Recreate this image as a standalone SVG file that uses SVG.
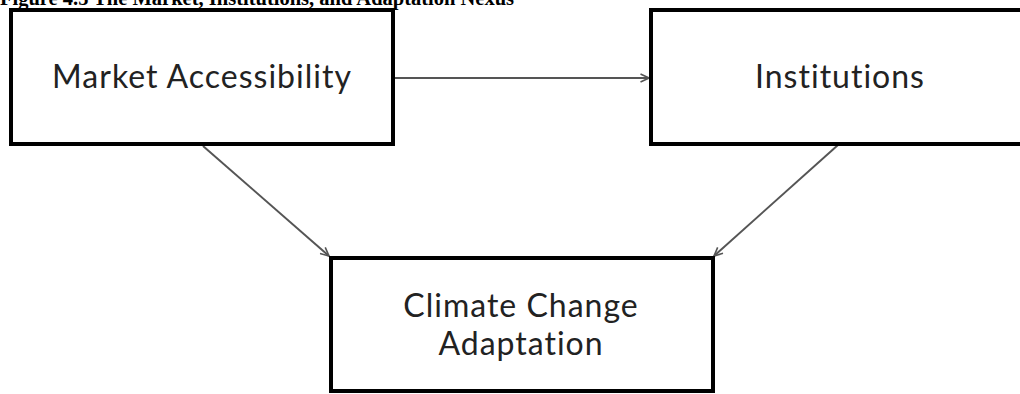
<svg xmlns="http://www.w3.org/2000/svg" width="1020" height="394" viewBox="0 0 1020 394">
<defs>
<style>
.box{fill:#fff;stroke:#000;stroke-width:4}
.lbl{font-family:Lato,"Liberation Sans",sans-serif;font-size:32px;letter-spacing:1px;fill:#222;text-anchor:middle;font-variant-ligatures:none}
.con{stroke:#555;stroke-width:2;fill:none;marker-end:url(#ah)}
.title{font-family:"Liberation Serif",serif;font-weight:bold;font-size:20.5px;fill:#000}
</style>
<marker id="ah" viewBox="0 0 10 10" refX="9.5" refY="5" markerWidth="5" markerHeight="5" orient="auto" markerUnits="strokeWidth">
<path d="M1,1 L9.5,5 L1,9" fill="none" stroke="#555" stroke-width="1.6"/>
</marker>
</defs>
<rect width="1020" height="394" fill="#fff"/>
<text class="title" x="0" y="5">Figure 4.5 The Market, Institutions, and Adaptation Nexus</text>
<g id="connectors">
<line class="con" x1="393" y1="78" x2="649" y2="78"/>
<line class="con" x1="203" y1="146" x2="329" y2="256"/>
<line class="con" x1="838" y1="145" x2="714" y2="256"/>
</g>
<g id="market">
<rect class="box" x="11" y="10" width="382" height="134"/>
<text class="lbl" x="202" y="88">Market Accessibility</text>
</g>
<g id="institutions">
<rect class="box" x="651" y="10" width="390" height="134"/>
<text class="lbl" x="840" y="88">Institutions</text>
</g>
<g id="adaptation">
<rect class="box" x="331" y="258" width="382" height="133"/>
<text class="lbl" x="521" y="317">Climate Change</text>
<text class="lbl" x="521" y="355">Adaptation</text>
</g>
</svg>
